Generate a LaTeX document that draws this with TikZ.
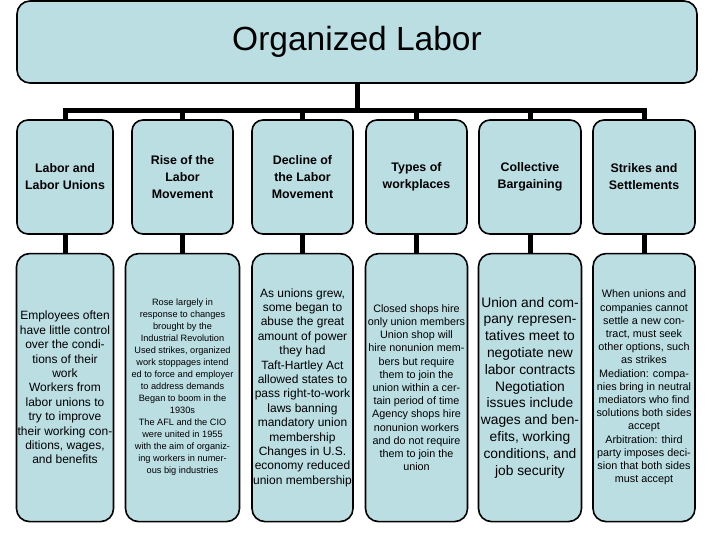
\documentclass[tikz,border=0pt]{standalone}
\usepackage{fontspec}
\setmainfont{Liberation Sans}
\usepackage{xcolor}
\usetikzlibrary{positioning}
\definecolor{boxblue}{RGB}{187,222,227}
\tikzset{
	hub/.style={rectangle, rounded corners=13pt, draw=black, line width=1.6pt, fill=boxblue, minimum width=680pt, minimum height=82pt, font=\fontsize{33.5}{40}\selectfont},
	topic/.style={rectangle, rounded corners=11pt, draw=black, line width=1.6pt, fill=boxblue, minimum height=114pt, align=center, inner sep=0pt, font=\fontsize{12.4}{17}\selectfont\bfseries},
	detail/.style={rectangle, rounded corners=13pt, draw=black, line width=1.6pt, fill=boxblue, minimum height=268pt, align=center, inner sep=0pt},
	conn/.style={draw=black, line width=5pt}
}

\begin{document}
\begin{tikzpicture}[x=1pt, y=-1pt]
	\useasboundingbox (0,0) rectangle (720,540);
	\node[hub] (org) at (357,42) {Organized Labor};
	% topics
	\node[topic, minimum width=96pt] (t1) at (65,177) {Labor and\\Labor Unions};
	\node[topic, minimum width=101pt] (t2) at (182.5,177) {Rise of the\\Labor\\Movement};
	\node[topic, minimum width=101pt] (t3) at (302.5,177) {Decline of\\the Labor\\Movement};
	\node[topic, minimum width=101pt] (t4) at (416.5,177) {Types of\\workplaces};
	\node[topic, minimum width=102pt] (t5) at (530,177) {Collective\\Bargaining};
	\node[topic, minimum width=102pt] (t6) at (644,177) {Strikes and\\Settlements};
	% details
	\node[detail, minimum width=97pt, below=18pt of t1, font=\fontsize{12}{14.4}\selectfont] (d1) {Employees often\\have little control\\over the condi-\\tions of their\\work\\Workers from\\labor unions to\\try to improve\\their working con-\\ditions, wages,\\and benefits};
	\node[detail, minimum width=114pt, below=18pt of t2, font=\fontsize{9.2}{12}\selectfont] (d2) {Rose largely in\\response to changes\\brought by the\\Industrial Revolution\\Used strikes, organized\\work stoppages intend\\ed to force and employer\\to address demands\\Began to boom in the\\1930s\\The AFL and the CIO\\were united in 1955\\with the aim of organiz-\\ing workers in numer-\\ous big industries};
	\node[detail, minimum width=101pt, below=18pt of t3, font=\fontsize{12}{14.4}\selectfont] (d3) {As unions grew,\\some began to\\abuse the great\\amount of power\\they had\\Taft-Hartley Act\\allowed states to\\pass right-to-work\\laws banning\\mandatory union\\membership\\Changes in U.S.\\economy reduced\\union membership};
	\node[detail, minimum width=102pt, below=18pt of t4, font=\fontsize{10.8}{13.2}\selectfont] (d4) {Closed shops hire\\only union members\\Union shop will\\hire nonunion mem-\\bers but require\\them to join the\\union within a cer-\\tain period of time\\Agency shops hire\\nonunion workers\\and do not require\\them to join the\\union};
	\node[detail, minimum width=103pt, below=18pt of t5, font=\fontsize{13.8}{16.8}\selectfont] (d5) {Union and com-\\pany represen-\\tatives meet to\\negotiate new\\labor contracts\\Negotiation\\issues include\\wages and ben-\\efits, working\\conditions, and\\job security};
	\node[detail, minimum width=102pt, below=18pt of t6, font=\fontsize{10.8}{13.2}\selectfont] (d6) {When unions and\\companies cannot\\settle a new con-\\tract, must seek\\other options, such\\as strikes\\Mediation: compa-\\nies bring in neutral\\mediators who find\\solutions both sides\\accept\\Arbitration: third\\party imposes deci-\\sion that both sides\\must accept};
	% connectors
	\coordinate (bus) at (357,110.5);
	\draw[conn] (org.south) -- (org.south |- bus);
	\draw[conn, line join=miter] (t1.north) -- (t1.north |- bus) -- (t6.north |- bus) -- (t6.north);
	\foreach \n in {2,...,5}
		\draw[conn] (t\n.north |- bus) -- (t\n.north);
	\foreach \n in {1,...,6}
		\draw[conn] (t\n.south) -- (d\n.north);
\end{tikzpicture}
\end{document}
